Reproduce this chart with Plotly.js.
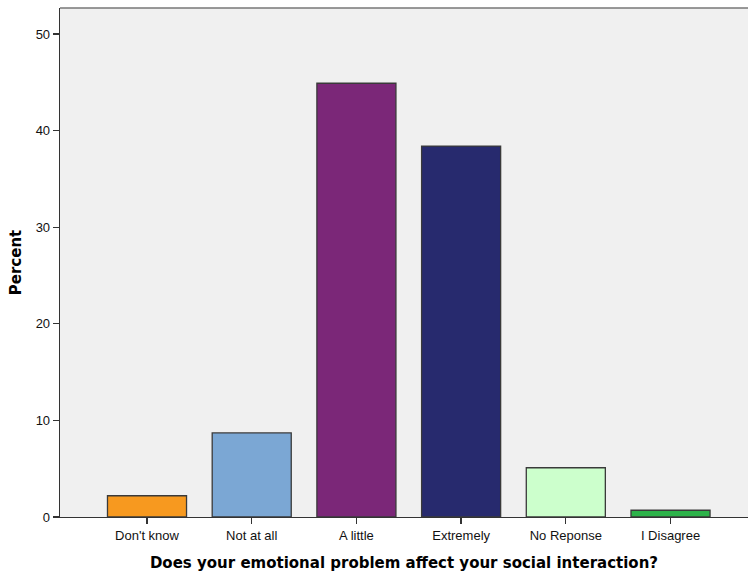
<!DOCTYPE html>
<html>
<head>
<meta charset="utf-8">
<script src="https://cdn.plot.ly/plotly-3.0.1.min.js"></script>
<style>html,body{margin:0;padding:0;background:#fff;}#chart{width:749px;height:575px;}</style>
</head>
<body>
<div id="chart"></div>
<script>
const categories = ["Don't know", "Not at all", "A little", "Extremely", "No Reponse", "I Disagree"];
const percents = [2.2, 8.7, 44.9, 38.4, 5.1, 0.7];
const barColors = ["#F7991F", "#7BA7D4", "#7B2778", "#272A6E", "#CCFFCC", "#2DB34A"];
const yTicks = [0, 10, 20, 30, 40, 50];

const trace = {
  type: 'bar',
  x: categories.map((c, i) => i),
  y: percents,
  width: 0.755,
  marker: {color: barColors, line: {color: '#3a3a3a', width: 1.3}},
  hoverinfo: 'none'
};

const titleFont = {size: 15, color: '#000', family: 'DejaVu Sans, Verdana, sans-serif', weight: 'bold'};

const layout = {
  width: 749, height: 575,
  margin: {l: 60, r: 1, t: 8, b: 58},
  paper_bgcolor: '#ffffff',
  plot_bgcolor: '#F0F0F0',
  showlegend: false,
  font: {family: 'Liberation Sans, Arial, sans-serif', color: '#000'},
  xaxis: {
    range: [-0.831, 5.74],
    tickmode: 'array',
    tickvals: categories.map((c, i) => i),
    ticktext: categories,
    ticks: 'outside', ticklen: 6, tickwidth: 1.3, tickcolor: '#333',
    showline: true, linecolor: '#333', linewidth: 1.3,
    showgrid: false, zeroline: false,
    tickfont: {size: 13, color: '#111'},
    title: {text: 'Does your emotional problem affect your social interaction?', font: titleFont, standoff: 15}
  },
  yaxis: {
    range: [0, 52.69],
    tickmode: 'array',
    tickvals: yTicks,
    ticks: 'outside', ticklen: 6, tickwidth: 1.3, tickcolor: '#333',
    showline: true, linecolor: '#333', linewidth: 1.3,
    showgrid: false, zeroline: false,
    tickfont: {size: 13, color: '#111'},
    title: {text: 'Percent', font: titleFont, standoff: 10}
  },
  shapes: [{type: 'line', xref: 'paper', yref: 'paper', x0: 0, x1: 1, y0: 1, y1: 1, line: {color: '#777', width: 1.5}}]
};

Plotly.newPlot('chart', [trace], layout, {displayModeBar: false, staticPlot: true});
</script>
</body>
</html>
